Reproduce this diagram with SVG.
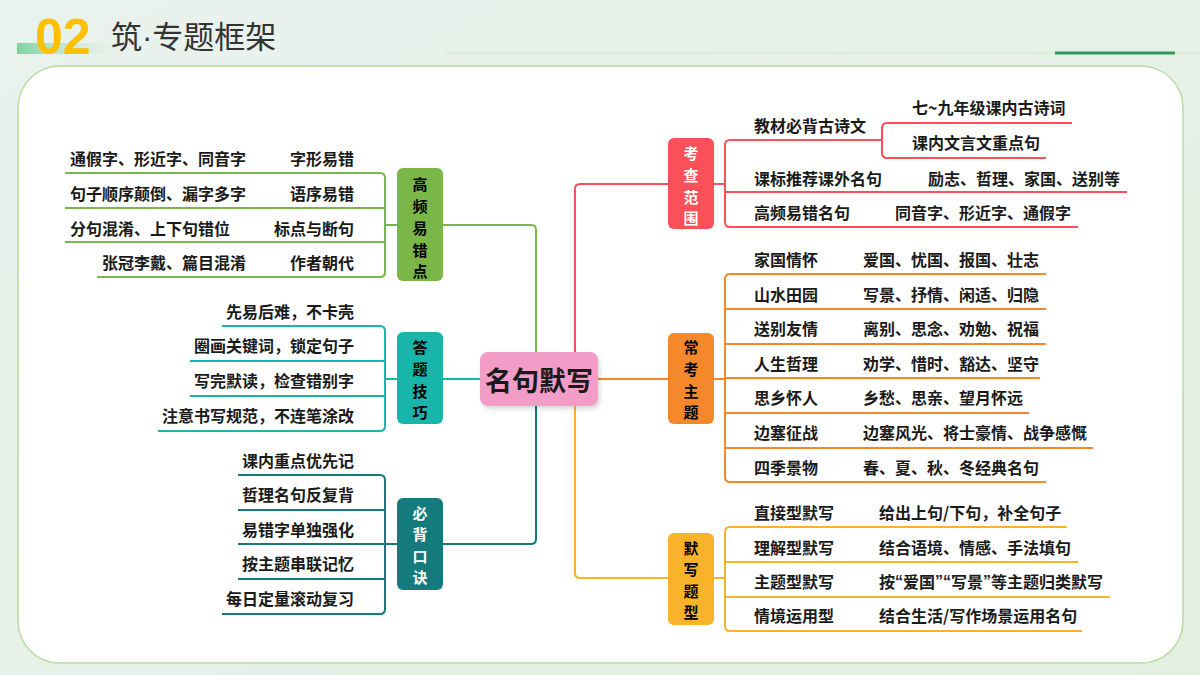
<svg xmlns="http://www.w3.org/2000/svg" width="1200" height="675" viewBox="0 0 1200 675">
<defs>
<linearGradient id="bg" x1="0" y1="0" x2="1" y2="1"><stop offset="0" stop-color="#e9f2ee"/><stop offset="1" stop-color="#e3efe0"/></linearGradient>
<linearGradient id="hb" x1="0" y1="0" x2="1" y2="0"><stop offset="0" stop-color="#7fd0a0"/><stop offset="1" stop-color="#e6f3ea" stop-opacity="0"/></linearGradient>
<filter id="sh" x="-10%" y="-10%" width="130%" height="140%"><feDropShadow dx="2" dy="3" stdDeviation="2" flood-color="#000" flood-opacity="0.15"/></filter>
</defs>
<style>
text{font-family:"Noto Sans CJK SC","Liberation Sans",sans-serif;font-weight:bold;}
.it{font-size:16px;fill:#1a1a1a;dominant-baseline:central;}
.r{text-anchor:end;}
.nc{font-size:15px;text-anchor:middle;dominant-baseline:central;}
.q{font-family:"Liberation Sans",sans-serif;}
.ln{fill:none;stroke-width:2;}
.g{stroke:#7ab648}.t{stroke:#1ab5aa}.d{stroke:#157a7c}.rd{stroke:#f9505a}.o{stroke:#f5882a}.y{stroke:#f9b32a}
</style>
<rect width="1200" height="675" fill="url(#bg)"/>
<rect x="18" y="66" width="1165" height="597" rx="42" fill="#fff" stroke="#b8dca0" stroke-width="1.5"/>
<rect x="17" y="43" width="115" height="11" fill="url(#hb)"/>
<text x="35" y="54" font-size="50" fill="#ffc000" style="font-family:'Liberation Sans',sans-serif">02</text>
<text x="111" y="48" font-size="31" fill="#333" style="font-weight:normal">筑<tspan class="q">·</tspan>专题框架</text>
<line x1="444" y1="53" x2="1200" y2="53" stroke="#d8ecd0" stroke-width="1.5"/>
<line x1="1055" y1="53" x2="1175" y2="53" stroke="#2e9a5a" stroke-width="3"/>

<g id="connectors">
<path class="ln g" d="M65,173 H380 Q385,173 385,178 V272 Q385,277 380,277 H97 M65,208 H385 M65,242 H385 M385,225 H397 M443,225 H531 Q536,225 536,230 V352"/>
<path class="ln t" d="M222,326 H380 Q385,326 385,331 V426 Q385,431 380,431 H158 M190,361 H385 M190,396 H385 M385,379 H397 M443,379 H480"/>
<path class="ln d" d="M238,475 H380 Q385,475 385,480 V609 Q385,614 380,614 H222 M238,510 H385 M238,544 H385 M238,579 H385 M385,544 H397 M443,544 H531 Q536,544 536,539 V406"/>
<path class="ln rd" d="M575,352 V189 Q575,184 580,184 H668 M714,184 H725 M882,140 H730 Q725,140 725,145 V222 Q725,227 730,227 H1078 M725,192 H1127 M1072,123 H887 Q882,123 882,128 V153 Q882,158 887,158 H1046"/>
<path class="ln o" d="M598,379 H668 M714,379 H725 M1046,274 H730 Q725,274 725,279 V477 Q725,482 730,482 H1046 M725,309 H1046 M725,344 H1046 M725,378 H1040 M725,413 H1029 M725,448 H1093"/>
<path class="ln y" d="M575,406 V573 Q575,578 580,578 H668 M714,578 H725 M1067,527 H730 Q725,527 725,532 V626 Q725,631 730,631 H1082 M725,562 H1078 M725,597 H1110"/>
</g>

<g id="center"><rect x="480" y="352" width="118" height="54" rx="8" fill="#f29cc8" filter="url(#sh)"/><text x="539" y="379" font-size="27" text-anchor="middle" dominant-baseline="central" fill="#1a1a1a">名句默写</text></g>

<g id="gaopin"><rect x="397" y="168" width="46" height="113" rx="6" fill="#7ab648"/>
<text class="nc" x="420" y="183">高</text><text class="nc" x="420" y="205">频</text><text class="nc" x="420" y="227">易</text><text class="nc" x="420" y="249">错</text><text class="nc" x="420" y="270">点</text>
<text class="it" x="70" y="158">通假字、形近字、同音字</text><text class="it r" x="354" y="158">字形易错</text>
<text class="it" x="70" y="193">句子顺序颠倒、漏字多字</text><text class="it r" x="354" y="193">语序易错</text>
<text class="it" x="70" y="228">分句混淆、上下句错位</text><text class="it r" x="354" y="228">标点与断句</text>
<text class="it" x="102" y="262">张冠李戴、篇目混淆</text><text class="it r" x="354" y="262">作者朝代</text></g>

<g id="dati"><rect x="397" y="332" width="46" height="92" rx="6" fill="#1ab5aa"/>
<text class="nc" x="420" y="346">答</text><text class="nc" x="420" y="368">题</text><text class="nc" x="420" y="390">技</text><text class="nc" x="420" y="411">巧</text>
<text class="it r" x="354" y="311">先易后难，不卡壳</text><text class="it r" x="354" y="345">圈画关键词，锁定句子</text><text class="it r" x="354" y="380">写完默读，检查错别字</text><text class="it r" x="354" y="415">注意书写规范，不连笔涂改</text></g>

<g id="bibei"><rect x="397" y="498" width="46" height="92" rx="6" fill="#157a7c"/>
<g fill="#fff"><text class="nc" x="420" y="512">必</text><text class="nc" x="420" y="533">背</text><text class="nc" x="420" y="555">口</text><text class="nc" x="420" y="576">诀</text></g>
<text class="it r" x="354" y="460">课内重点优先记</text><text class="it r" x="354" y="494">哲理名句反复背</text><text class="it r" x="354" y="529">易错字单独强化</text><text class="it r" x="354" y="563">按主题串联记忆</text><text class="it r" x="354" y="598">每日定量滚动复习</text></g>

<g id="kaocha"><rect x="668" y="138" width="46" height="91" rx="6" fill="#f9505a"/>
<g fill="#fff"><text class="nc" x="691" y="152">考</text><text class="nc" x="691" y="174">查</text><text class="nc" x="691" y="196">范</text><text class="nc" x="691" y="217">围</text></g>
<text class="it" x="754" y="125">教材必背古诗文</text><text class="it" x="912" y="107">七~九年级课内古诗词</text><text class="it" x="912" y="142">课内文言文重点句</text>
<text class="it" x="754" y="178">课标推荐课外名句</text><text class="it" x="928" y="178">励志、哲理、家国、送别等</text>
<text class="it" x="754" y="212">高频易错名句</text><text class="it" x="895" y="212">同音字、形近字、通假字</text></g>

<g id="changkao"><rect x="668" y="333" width="46" height="91" rx="6" fill="#f5882a"/>
<text class="nc" x="691" y="346">常</text><text class="nc" x="691" y="368">考</text><text class="nc" x="691" y="390">主</text><text class="nc" x="691" y="411">题</text>
<text class="it" x="754" y="259">家国情怀</text><text class="it" x="863" y="259">爱国、忧国、报国、壮志</text>
<text class="it" x="754" y="294">山水田园</text><text class="it" x="863" y="294">写景、抒情、闲适、归隐</text>
<text class="it" x="754" y="328">送别友情</text><text class="it" x="863" y="328">离别、思念、劝勉、祝福</text>
<text class="it" x="754" y="363">人生哲理</text><text class="it" x="863" y="363">劝学、惜时、豁达、坚守</text>
<text class="it" x="754" y="397">思乡怀人</text><text class="it" x="863" y="397">乡愁、思亲、望月怀远</text>
<text class="it" x="754" y="432">边塞征战</text><text class="it" x="863" y="432">边塞风光、将士豪情、战争感慨</text>
<text class="it" x="754" y="467">四季景物</text><text class="it" x="863" y="467">春、夏、秋、冬经典名句</text></g>

<g id="moxie"><rect x="668" y="533" width="46" height="92" rx="6" fill="#f9b32a"/>
<text class="nc" x="691" y="547">默</text><text class="nc" x="691" y="568">写</text><text class="nc" x="691" y="590">题</text><text class="nc" x="691" y="611">型</text>
<text class="it" x="754" y="512">直接型默写</text><text class="it" x="879" y="512">给出上句/下句，补全句子</text>
<text class="it" x="754" y="547">理解型默写</text><text class="it" x="879" y="547">结合语境、情感、手法填句</text>
<text class="it" x="754" y="581">主题型默写</text><text class="it" x="879" y="581">按<tspan class="q">“</tspan>爱国<tspan class="q">”“</tspan>写景<tspan class="q">”</tspan>等主题归类默写</text>
<text class="it" x="754" y="615">情境运用型</text><text class="it" x="879" y="615">结合生活/写作场景运用名句</text></g>
</svg>
